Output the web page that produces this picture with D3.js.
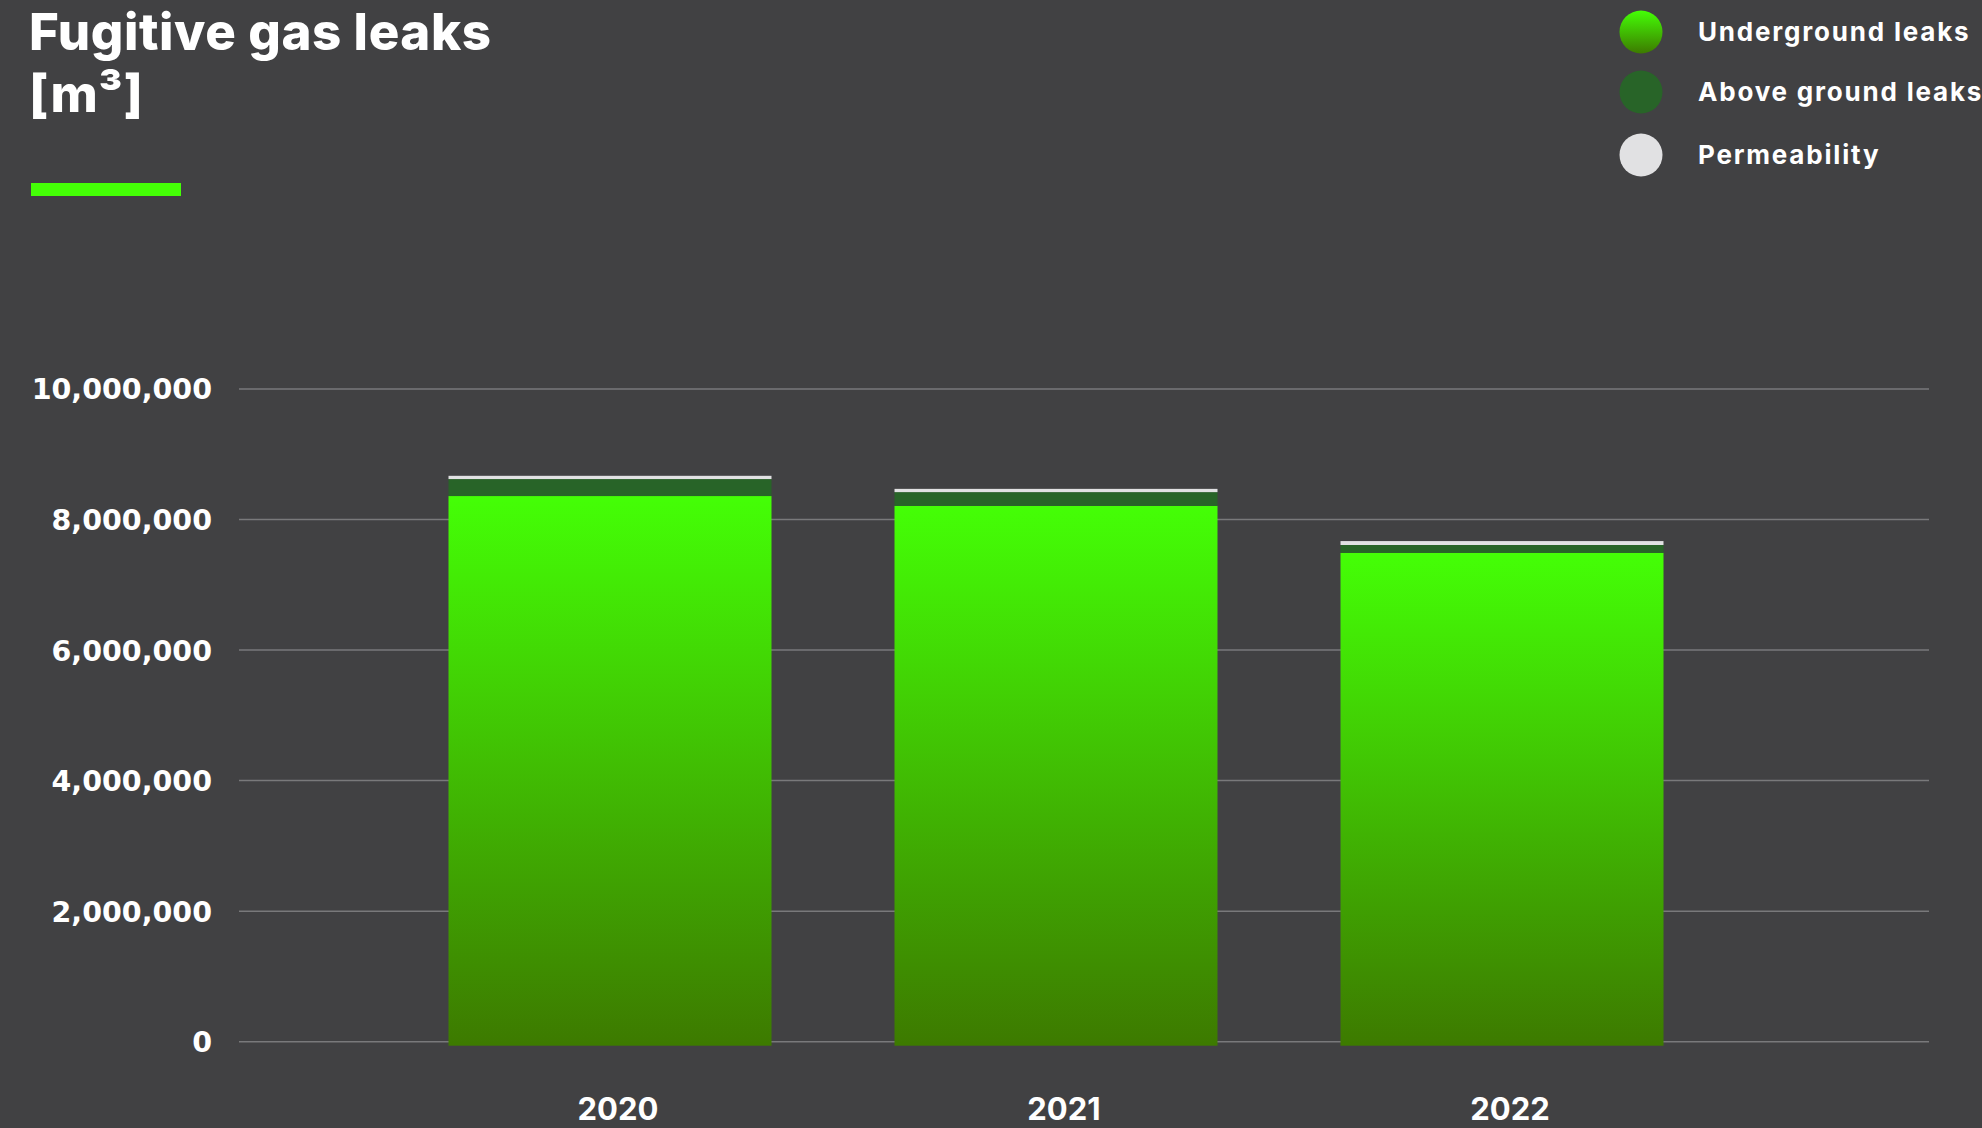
<!DOCTYPE html>
<html>
<head>
<meta charset="utf-8">
<script src="https://cdn.jsdelivr.net/npm/d3@7"></script>
<style>
  html, body { margin: 0; padding: 0; background: #414143; }
  svg { display: block; }
</style>
</head>
<body>
<svg id="chart" width="1982" height="1128"></svg>
<script>
// Fugitive gas leaks per year, in cubic metres
const years = ["2020", "2021", "2022"];
const underground = [8360000, 8210000, 7490000];
const aboveGround = [260000, 210000, 120000];
const permeability = [50000, 50000, 60000];
const yTicks = [0, 2000000, 4000000, 6000000, 8000000, 10000000];
const seriesNames = ["Underground leaks", "Above ground leaks", "Permeability"];

const W = 1982, H = 1128;
const svg = d3.select("#chart");

svg.append("rect").attr("width", W).attr("height", H).attr("fill", "#414143");

const defs = svg.append("defs");
const grad = defs.append("linearGradient")
  .attr("id", "ugGrad").attr("x1", 0).attr("y1", 0).attr("x2", 0).attr("y2", 1);
grad.append("stop").attr("offset", "0%").attr("stop-color", "#44ff06");
grad.append("stop").attr("offset", "100%").attr("stop-color", "#3d7a00");

const colors = ["url(#ugGrad)", "#286428", "#e1e1e3"];

// Scales
const y = d3.scaleLinear().domain([0, 10000000]).range([1041.7, 389]);
const x = d3.scaleBand().domain(years).range([387, 1725])
  .paddingInner(0.2758).paddingOuter(0.1379);
const gridLeft = 239, gridRight = 1929;

// Gridlines and y labels
const yAxis = d3.axisLeft(y).tickValues(yTicks).tickSize(0).tickPadding(0)
  .tickFormat(d3.format(","));
const gy = svg.append("g").attr("transform", "translate(212,0)").call(yAxis);
gy.select(".domain").remove();
gy.selectAll("text")
  .attr("font-family", "DejaVu Sans").attr("font-weight", "bold")
  .attr("font-size", 28.5).attr("fill", "#ffffff").attr("dy", "0.35em");

svg.append("g").selectAll("line").data(yTicks).join("line")
  .attr("x1", gridLeft).attr("x2", gridRight)
  .attr("y1", d => y(d)).attr("y2", d => y(d))
  .attr("stroke", "#79797b").attr("stroke-width", 1.5);

// Stacked bars
const rows = years.map((yr, i) => ({
  year: yr, u: underground[i], a: aboveGround[i], p: permeability[i]
}));
const stack = d3.stack().keys(["u", "a", "p"])(rows);

const layers = svg.append("g").selectAll("g").data(stack).join("g")
  .attr("fill", (d, i) => colors[i]);
layers.selectAll("rect").data(d => d.map(v => ({ v, key: d.key }))).join("rect")
  .attr("x", d => x(d.v.data.year))
  .attr("width", x.bandwidth())
  .attr("y", d => y(d.v[1]))
  .attr("height", d => y(d.v[0]) - y(d.v[1]) + (d.key === "u" ? 4 : 0));

// x labels
svg.append("g").selectAll("text").data(years).join("text")
  .attr("x", d => x(d) + x.bandwidth() / 2 + 8)
  .attr("y", 1120)
  .attr("text-anchor", "middle")
  .attr("font-family", "Inter").attr("font-weight", 700)
  .attr("font-size", 31).attr("fill", "#ffffff")
  .text(d => d);

// Title
const title = svg.append("text")
  .attr("font-family", "Inter").attr("font-weight", 800)
  .attr("font-size", 51).attr("letter-spacing", 0.6).attr("fill", "#ffffff");
title.append("tspan").attr("x", 29).attr("y", 50).text("Fugitive gas leaks");
title.append("tspan").attr("x", 29).attr("y", 112).text("[m³]");

svg.append("rect").attr("x", 31).attr("y", 183).attr("width", 150).attr("height", 13)
  .attr("fill", "#44ff06");

// Legend
const legendY = [32, 92, 155];
const lg = svg.append("g").selectAll("g").data(seriesNames).join("g")
  .attr("transform", (d, i) => `translate(1641,${legendY[i]})`);
lg.append("circle").attr("r", 21.5).attr("fill", (d, i) => colors[i]);
lg.append("text").attr("x", 57).attr("y", 9)
  .attr("font-family", "Inter").attr("font-weight", 700)
  .attr("font-size", 26).attr("letter-spacing", 1.8).attr("fill", "#ffffff")
  .text(d => d);
</script>
</body>
</html>
